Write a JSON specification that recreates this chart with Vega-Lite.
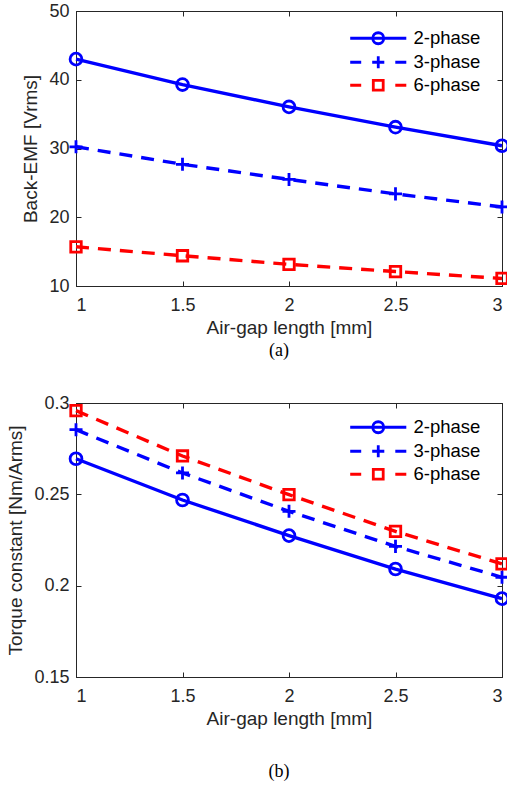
{
  "$schema": "https://vega.github.io/schema/vega-lite/v6.json",
  "padding": {"left": 6, "top": 1, "right": 0, "bottom": 0},
  "background": "white",
  "spacing": 32,
  "resolve": {"scale": {"color": "independent", "shape": "independent"}, "legend": {"color": "independent", "shape": "independent"}},
  "datasets": {
    "emf": [
      {"gap": 1, "series": "2-phase", "value": 43.0},
      {"gap": 1.5, "series": "2-phase", "value": 39.3},
      {"gap": 2, "series": "2-phase", "value": 36.05},
      {"gap": 2.5, "series": "2-phase", "value": 33.1},
      {"gap": 3, "series": "2-phase", "value": 30.4},
      {"gap": 1, "series": "3-phase", "value": 30.25},
      {"gap": 1.5, "series": "3-phase", "value": 27.7},
      {"gap": 2, "series": "3-phase", "value": 25.5},
      {"gap": 2.5, "series": "3-phase", "value": 23.4},
      {"gap": 3, "series": "3-phase", "value": 21.5},
      {"gap": 1, "series": "6-phase", "value": 15.7},
      {"gap": 1.5, "series": "6-phase", "value": 14.4},
      {"gap": 2, "series": "6-phase", "value": 13.15},
      {"gap": 2.5, "series": "6-phase", "value": 12.1},
      {"gap": 3, "series": "6-phase", "value": 11.1}
    ],
    "kt": [
      {"gap": 1, "series": "2-phase", "value": 0.2695},
      {"gap": 1.5, "series": "2-phase", "value": 0.2469},
      {"gap": 2, "series": "2-phase", "value": 0.2274},
      {"gap": 2.5, "series": "2-phase", "value": 0.2091},
      {"gap": 3, "series": "2-phase", "value": 0.1929},
      {"gap": 1, "series": "3-phase", "value": 0.2854},
      {"gap": 1.5, "series": "3-phase", "value": 0.2617},
      {"gap": 2, "series": "3-phase", "value": 0.2407},
      {"gap": 2.5, "series": "3-phase", "value": 0.2215},
      {"gap": 3, "series": "3-phase", "value": 0.2046},
      {"gap": 1, "series": "6-phase", "value": 0.2958},
      {"gap": 1.5, "series": "6-phase", "value": 0.2710},
      {"gap": 2, "series": "6-phase", "value": 0.2498},
      {"gap": 2.5, "series": "6-phase", "value": 0.2297},
      {"gap": 3, "series": "6-phase", "value": 0.2119}
    ]
  },
  "config": {
    "font": "Liberation Sans",
    "view": {"stroke": "#262626", "strokeWidth": 1},
    "axis": {
      "domainColor": "#262626",
      "domainWidth": 1,
      "tickColor": "#262626",
      "tickWidth": 1,
      "tickSize": -5,
      "labelColor": "#262626",
      "titleColor": "#262626",
      "labelFont": "Liberation Sans",
      "titleFont": "Liberation Sans",
      "labelFontSize": 18,
      "titleFontSize": 19,
      "titleFontWeight": "normal",
      "grid": false
    },
    "axisX": {"labelPadding": 15, "titlePadding": 4},
    "axisY": {"labelPadding": 12, "titlePadding": 8},
    "legend": {
      "labelFont": "Liberation Sans",
      "labelFontSize": 18.5,
      "labelColor": "#000000"
    }
  },
  "vconcat": [
    {
      "width": 426,
      "height": 275,
      "data": {"name": "emf"},
      "title": {"text": "(a)", "orient": "bottom", "font": "Liberation Serif", "fontSize": 18, "fontWeight": "normal", "color": "#000000", "offset": 5, "dx": -10},
      "layer": [
        {
          "encoding": {
            "x": {"field": "gap", "type": "quantitative", "scale": {"domain": [1, 3], "nice": false, "zero": false},
                  "axis": {"values": [1, 1.5, 2, 2.5, 3], "format": "~g", "title": "Air-gap length [mm]"}},
            "y": {"field": "value", "type": "quantitative", "scale": {"domain": [10, 50], "nice": false, "zero": false},
                  "axis": {"values": [10, 20, 30, 40, 50], "title": "Back-EMF [Vrms]"}},
            "color": {"field": "series", "type": "nominal", "scale": {"domain": ["2-phase", "3-phase", "6-phase"], "range": ["#0000ff", "#0000ff", "#ff0000"]},
              "legend": {"orient": "none", "legendX": 293, "legendY": 18, "title": null, "labelOffset": 26, "rowPadding": 0,
                "symbolSize": 121, "symbolOpacity": 1, "symbolStrokeWidth": 2.8, "symbolFillColor": "transparent"}}
          },
          "layer": [
            {
              "transform": [{"filter": "datum.series === '2-phase'"}],
              "mark": {"type": "line", "strokeWidth": 3.4, "clip": false}
            },
            {
              "transform": [{"filter": "datum.series !== '2-phase'"}],
              "mark": {"type": "line", "strokeWidth": 3.4, "strokeDash": [13, 9], "clip": false}
            },
            {
              "mark": {"type": "point", "filled": false, "opacity": 0, "size": 121, "clip": false},
              "encoding": {
                "shape": {"field": "series", "type": "nominal",
                  "scale": {"domain": ["2-phase", "3-phase", "6-phase"],
                    "range": ["M-5.1,0H5.1M1,0A1,1 0 1,1 -1,0A1,1 0 1,1 1,0", "M-5.1,0H-3.1M3.1,0H5.1M-1.1,0H1.1M0,-1.1V1.1", "M-5.1,0H-3.1M3.1,0H5.1M-0.9,-0.9H0.9V0.9H-0.9Z"]}}
              }
            }
          ]
        },
        {
          "encoding": {
            "x": {"field": "gap", "type": "quantitative", "axis": {"orient": "top", "values": [1, 1.5, 2, 2.5, 3], "labels": false, "title": null}},
            "y": {"field": "value", "type": "quantitative", "axis": {"orient": "right", "values": [10, 20, 30, 40, 50], "labels": false, "title": null}},
            "color": {"field": "series", "type": "nominal"}
          },
          "layer": [
            {
              "transform": [{"filter": "datum.series === '2-phase'"}],
              "mark": {"type": "point", "shape": "circle", "size": 140, "filled": false, "strokeWidth": 2.8, "opacity": 1, "clip": false}
            },
            {
              "transform": [{"filter": "datum.series === '3-phase'"}],
              "mark": {"type": "point", "shape": "M-1,0H1M0,-1V1", "size": 170, "filled": false, "strokeWidth": 2.8, "opacity": 1, "clip": false}
            },
            {
              "transform": [{"filter": "datum.series === '6-phase'"}],
              "mark": {"type": "point", "shape": "square", "size": 110, "filled": false, "strokeWidth": 2.8, "opacity": 1, "clip": false}
            }
          ]
        }
      ],
      "resolve": {"axis": {"x": "independent", "y": "independent"}}
    },
    {
      "width": 426,
      "height": 274,
      "data": {"name": "kt"},
      "title": {"text": "(b)", "orient": "bottom", "font": "Liberation Serif", "fontSize": 18, "fontWeight": "normal", "color": "#000000", "offset": 35, "dx": -10},
      "layer": [
        {
          "encoding": {
            "x": {"field": "gap", "type": "quantitative", "scale": {"domain": [1, 3], "nice": false, "zero": false},
                  "axis": {"values": [1, 1.5, 2, 2.5, 3], "format": "~g", "title": "Air-gap length [mm]"}},
            "y": {"field": "value", "type": "quantitative", "scale": {"domain": [0.15, 0.3], "nice": false, "zero": false},
                  "axis": {"values": [0.15, 0.2, 0.25, 0.3], "format": "~g", "title": "Torque constant [Nm/Arms]"}},
            "color": {"field": "series", "type": "nominal", "scale": {"domain": ["2-phase", "3-phase", "6-phase"], "range": ["#0000ff", "#0000ff", "#ff0000"]},
              "legend": {"orient": "none", "legendX": 293, "legendY": 15, "title": null, "labelOffset": 26, "rowPadding": 0,
                "symbolSize": 121, "symbolOpacity": 1, "symbolStrokeWidth": 2.8, "symbolFillColor": "transparent"}}
          },
          "layer": [
            {
              "transform": [{"filter": "datum.series === '2-phase'"}],
              "mark": {"type": "line", "strokeWidth": 3.4, "clip": false}
            },
            {
              "transform": [{"filter": "datum.series !== '2-phase'"}],
              "mark": {"type": "line", "strokeWidth": 3.4, "strokeDash": [13, 9], "clip": false}
            },
            {
              "mark": {"type": "point", "filled": false, "opacity": 0, "size": 121, "clip": false},
              "encoding": {
                "shape": {"field": "series", "type": "nominal",
                  "scale": {"domain": ["2-phase", "3-phase", "6-phase"],
                    "range": ["M-5.1,0H5.1M1,0A1,1 0 1,1 -1,0A1,1 0 1,1 1,0", "M-5.1,0H-3.1M3.1,0H5.1M-1.1,0H1.1M0,-1.1V1.1", "M-5.1,0H-3.1M3.1,0H5.1M-0.9,-0.9H0.9V0.9H-0.9Z"]}}
              }
            }
          ]
        },
        {
          "encoding": {
            "x": {"field": "gap", "type": "quantitative", "axis": {"orient": "top", "values": [1, 1.5, 2, 2.5, 3], "labels": false, "title": null}},
            "y": {"field": "value", "type": "quantitative", "axis": {"orient": "right", "values": [0.15, 0.2, 0.25, 0.3], "labels": false, "title": null}},
            "color": {"field": "series", "type": "nominal"}
          },
          "layer": [
            {
              "transform": [{"filter": "datum.series === '2-phase'"}],
              "mark": {"type": "point", "shape": "circle", "size": 140, "filled": false, "strokeWidth": 2.8, "opacity": 1, "clip": false}
            },
            {
              "transform": [{"filter": "datum.series === '3-phase'"}],
              "mark": {"type": "point", "shape": "M-1,0H1M0,-1V1", "size": 170, "filled": false, "strokeWidth": 2.8, "opacity": 1, "clip": false}
            },
            {
              "transform": [{"filter": "datum.series === '6-phase'"}],
              "mark": {"type": "point", "shape": "square", "size": 110, "filled": false, "strokeWidth": 2.8, "opacity": 1, "clip": false}
            }
          ]
        }
      ],
      "resolve": {"axis": {"x": "independent", "y": "independent"}}
    }
  ]
}
